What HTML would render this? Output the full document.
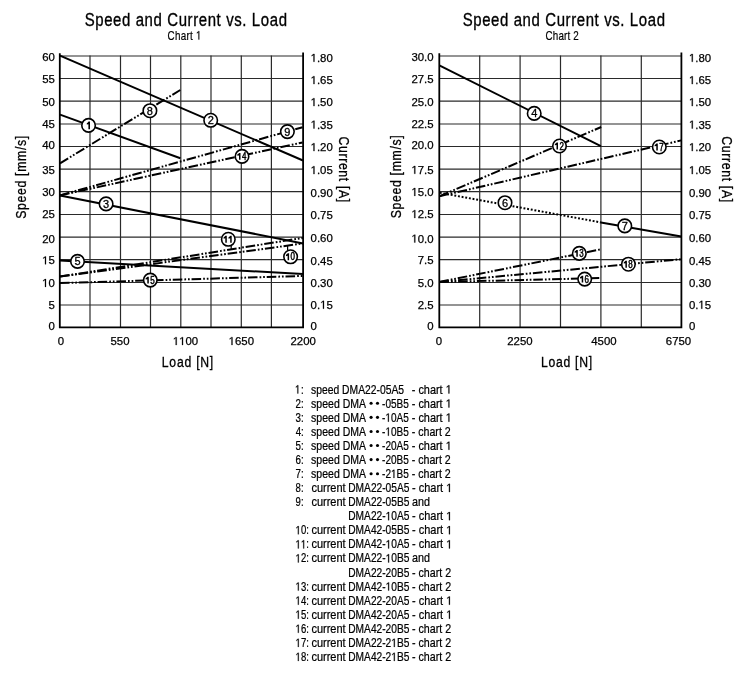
<!DOCTYPE html><html><head><meta charset="utf-8"><style>html,body{margin:0;padding:0;background:#fff;width:750px;height:683px;overflow:hidden}svg{display:block;will-change:transform}text{font-family:"Liberation Sans", sans-serif;fill:#000;white-space:pre}.b{stroke:#000;stroke-width:0.25}.c{stroke:#000;stroke-width:0.3}.c2{stroke:#000;stroke-width:0.45}.t{stroke:#000;stroke-width:0.35}.s{stroke:#000;stroke-width:0.2}.a{stroke:#000;stroke-width:0.3}.l{stroke:#000;stroke-width:0.22}</style></head><body>
<svg width="750" height="683" viewBox="0 0 750 683">
<rect width="750" height="683" fill="#fff"/>
<text transform="translate(84.63,25.5) scale(0.8,1)" x="0" y="0" font-size="18.7" textLength="252.92" lengthAdjust="spacing" class="t">Speed and Current vs. Load</text>
<text transform="translate(167.51,39.6) scale(0.8000,1)" font-size="12.3" textLength="35.22" lengthAdjust="spacing" class="s">Chart </text>
<polygon points="198.43,39.60 199.30,39.60 199.30,31.14 198.50,31.14 196.90,32.51 196.90,33.53 198.43,32.17" class="s"/>
<text transform="translate(462.63,25.5) scale(0.8,1)" x="0" y="0" font-size="18.7" textLength="252.92" lengthAdjust="spacing" class="t">Speed and Current vs. Load</text>
<text transform="translate(545.61,39.6) scale(0.8,1)" x="0" y="0" font-size="12.3" textLength="41.48" lengthAdjust="spacing" class="s">Chart 2</text>
<line x1="90.0" y1="55.4" x2="90.0" y2="327.3" stroke="#2a2a2a" stroke-width="1.2"/>
<line x1="120.5" y1="55.4" x2="120.5" y2="327.3" stroke="#2a2a2a" stroke-width="1.2"/>
<line x1="150.5" y1="55.4" x2="150.5" y2="327.3" stroke="#2a2a2a" stroke-width="1.2"/>
<line x1="180.8" y1="55.4" x2="180.8" y2="327.3" stroke="#2a2a2a" stroke-width="1.2"/>
<line x1="211.0" y1="55.4" x2="211.0" y2="327.3" stroke="#2a2a2a" stroke-width="1.2"/>
<line x1="241.3" y1="55.4" x2="241.3" y2="327.3" stroke="#2a2a2a" stroke-width="1.2"/>
<line x1="271.4" y1="55.4" x2="271.4" y2="327.3" stroke="#2a2a2a" stroke-width="1.2"/>
<line x1="59.8" y1="56.0" x2="303.1" y2="56.0" stroke="#2a2a2a" stroke-width="1.2"/>
<line x1="59.8" y1="78.5" x2="303.1" y2="78.5" stroke="#2a2a2a" stroke-width="1.2"/>
<line x1="59.8" y1="101.1" x2="303.1" y2="101.1" stroke="#2a2a2a" stroke-width="1.2"/>
<line x1="59.8" y1="124.0" x2="303.1" y2="124.0" stroke="#2a2a2a" stroke-width="1.2"/>
<line x1="59.8" y1="146.5" x2="303.1" y2="146.5" stroke="#2a2a2a" stroke-width="1.2"/>
<line x1="59.8" y1="169.2" x2="303.1" y2="169.2" stroke="#2a2a2a" stroke-width="1.2"/>
<line x1="59.8" y1="191.7" x2="303.1" y2="191.7" stroke="#2a2a2a" stroke-width="1.2"/>
<line x1="59.8" y1="214.5" x2="303.1" y2="214.5" stroke="#2a2a2a" stroke-width="1.2"/>
<line x1="59.8" y1="237.2" x2="303.1" y2="237.2" stroke="#2a2a2a" stroke-width="1.2"/>
<line x1="59.8" y1="259.6" x2="303.1" y2="259.6" stroke="#2a2a2a" stroke-width="1.2"/>
<line x1="59.8" y1="282.5" x2="303.1" y2="282.5" stroke="#2a2a2a" stroke-width="1.2"/>
<line x1="59.8" y1="305.0" x2="303.1" y2="305.0" stroke="#2a2a2a" stroke-width="1.2"/>
<path d="M59.8 53.2 V327.3 H303.1 M303.1 52.6 V328.3" fill="none" stroke="#000" stroke-width="1.8"/>
<line x1="479.7" y1="55.4" x2="479.7" y2="327.3" stroke="#2a2a2a" stroke-width="1.2"/>
<line x1="520.1" y1="55.4" x2="520.1" y2="327.3" stroke="#2a2a2a" stroke-width="1.2"/>
<line x1="560.5" y1="55.4" x2="560.5" y2="327.3" stroke="#2a2a2a" stroke-width="1.2"/>
<line x1="600.9" y1="55.4" x2="600.9" y2="327.3" stroke="#2a2a2a" stroke-width="1.2"/>
<line x1="641.3" y1="55.4" x2="641.3" y2="327.3" stroke="#2a2a2a" stroke-width="1.2"/>
<line x1="439.3" y1="56.0" x2="681.4" y2="56.0" stroke="#2a2a2a" stroke-width="1.2"/>
<line x1="439.3" y1="78.5" x2="681.4" y2="78.5" stroke="#2a2a2a" stroke-width="1.2"/>
<line x1="439.3" y1="101.1" x2="681.4" y2="101.1" stroke="#2a2a2a" stroke-width="1.2"/>
<line x1="439.3" y1="124.0" x2="681.4" y2="124.0" stroke="#2a2a2a" stroke-width="1.2"/>
<line x1="439.3" y1="146.5" x2="681.4" y2="146.5" stroke="#2a2a2a" stroke-width="1.2"/>
<line x1="439.3" y1="169.2" x2="681.4" y2="169.2" stroke="#2a2a2a" stroke-width="1.2"/>
<line x1="439.3" y1="191.7" x2="681.4" y2="191.7" stroke="#2a2a2a" stroke-width="1.2"/>
<line x1="439.3" y1="214.5" x2="681.4" y2="214.5" stroke="#2a2a2a" stroke-width="1.2"/>
<line x1="439.3" y1="237.2" x2="681.4" y2="237.2" stroke="#2a2a2a" stroke-width="1.2"/>
<line x1="439.3" y1="259.6" x2="681.4" y2="259.6" stroke="#2a2a2a" stroke-width="1.2"/>
<line x1="439.3" y1="282.5" x2="681.4" y2="282.5" stroke="#2a2a2a" stroke-width="1.2"/>
<line x1="439.3" y1="305.0" x2="681.4" y2="305.0" stroke="#2a2a2a" stroke-width="1.2"/>
<path d="M439.3 53.2 V327.3 H681.4 M681.4 52.6 V328.3" fill="none" stroke="#000" stroke-width="1.8"/>
<text x="54.8" y="60.5" font-size="11.4" text-anchor="end" class="b">60</text>
<text x="433.6" y="60.5" font-size="11.4" text-anchor="end" class="b">30.0</text>
<polygon points="313.47,61.80 314.47,61.80 314.47,53.96 313.55,53.96 311.70,55.23 311.70,56.18 313.47,54.91" class="b"/>
<text transform="translate(316.94,61.8) scale(1.0000,1)" font-size="11.4" textLength="15.85" lengthAdjust="spacing" class="b">.80</text>
<polygon points="691.77,61.80 692.77,61.80 692.77,53.96 691.85,53.96 690.00,55.23 690.00,56.18 691.77,54.91" class="b"/>
<text transform="translate(695.24,61.8) scale(1.0000,1)" font-size="11.4" textLength="15.85" lengthAdjust="spacing" class="b">.80</text>
<text x="54.8" y="83.2" font-size="11.4" text-anchor="end" class="b">55</text>
<text x="433.6" y="83.2" font-size="11.4" text-anchor="end" class="b">27.5</text>
<polygon points="313.47,84.10 314.47,84.10 314.47,76.26 313.55,76.26 311.70,77.53 311.70,78.48 313.47,77.21" class="b"/>
<text transform="translate(316.94,84.1) scale(1.0000,1)" font-size="11.4" textLength="15.85" lengthAdjust="spacing" class="b">.65</text>
<polygon points="691.77,84.10 692.77,84.10 692.77,76.26 691.85,76.26 690.00,77.53 690.00,78.48 691.77,77.21" class="b"/>
<text transform="translate(695.24,84.1) scale(1.0000,1)" font-size="11.4" textLength="15.85" lengthAdjust="spacing" class="b">.65</text>
<text x="54.8" y="105.6" font-size="11.4" text-anchor="end" class="b">50</text>
<text x="433.6" y="105.6" font-size="11.4" text-anchor="end" class="b">25.0</text>
<polygon points="313.47,106.10 314.47,106.10 314.47,98.26 313.55,98.26 311.70,99.53 311.70,100.48 313.47,99.21" class="b"/>
<text transform="translate(316.94,106.1) scale(1.0000,1)" font-size="11.4" textLength="15.85" lengthAdjust="spacing" class="b">.50</text>
<polygon points="691.77,106.10 692.77,106.10 692.77,98.26 691.85,98.26 690.00,99.53 690.00,100.48 691.77,99.21" class="b"/>
<text transform="translate(695.24,106.1) scale(1.0000,1)" font-size="11.4" textLength="15.85" lengthAdjust="spacing" class="b">.50</text>
<text x="54.8" y="127.5" font-size="11.4" text-anchor="end" class="b">45</text>
<text x="433.6" y="127.5" font-size="11.4" text-anchor="end" class="b">22.5</text>
<polygon points="313.47,128.50 314.47,128.50 314.47,120.66 313.55,120.66 311.70,121.93 311.70,122.88 313.47,121.61" class="b"/>
<text transform="translate(316.94,128.5) scale(1.0000,1)" font-size="11.4" textLength="15.85" lengthAdjust="spacing" class="b">.35</text>
<polygon points="691.77,128.50 692.77,128.50 692.77,120.66 691.85,120.66 690.00,121.93 690.00,122.88 691.77,121.61" class="b"/>
<text transform="translate(695.24,128.5) scale(1.0000,1)" font-size="11.4" textLength="15.85" lengthAdjust="spacing" class="b">.35</text>
<text x="54.8" y="149.4" font-size="11.4" text-anchor="end" class="b">40</text>
<text x="433.6" y="149.4" font-size="11.4" text-anchor="end" class="b">20.0</text>
<polygon points="313.47,151.10 314.47,151.10 314.47,143.26 313.55,143.26 311.70,144.53 311.70,145.48 313.47,144.21" class="b"/>
<text transform="translate(316.94,151.1) scale(1.0000,1)" font-size="11.4" textLength="15.85" lengthAdjust="spacing" class="b">.20</text>
<polygon points="691.77,151.10 692.77,151.10 692.77,143.26 691.85,143.26 690.00,144.53 690.00,145.48 691.77,144.21" class="b"/>
<text transform="translate(695.24,151.1) scale(1.0000,1)" font-size="11.4" textLength="15.85" lengthAdjust="spacing" class="b">.20</text>
<text x="54.8" y="173.8" font-size="11.4" text-anchor="end" class="b">35</text>
<polygon points="414.28,173.80 415.29,173.80 415.29,165.96 414.36,165.96 412.51,167.23 412.51,168.18 414.28,166.91" class="b"/>
<text transform="translate(417.75,173.8) scale(1.0000,1)" font-size="11.4" textLength="15.85" lengthAdjust="spacing" class="b">7.5</text>
<polygon points="313.47,174.10 314.47,174.10 314.47,166.26 313.55,166.26 311.70,167.53 311.70,168.48 313.47,167.21" class="b"/>
<text transform="translate(316.94,174.1) scale(1.0000,1)" font-size="11.4" textLength="15.85" lengthAdjust="spacing" class="b">.05</text>
<polygon points="691.77,174.10 692.77,174.10 692.77,166.26 691.85,166.26 690.00,167.53 690.00,168.48 691.77,167.21" class="b"/>
<text transform="translate(695.24,174.1) scale(1.0000,1)" font-size="11.4" textLength="15.85" lengthAdjust="spacing" class="b">.05</text>
<text x="54.8" y="195.9" font-size="11.4" text-anchor="end" class="b">30</text>
<polygon points="414.28,195.90 415.29,195.90 415.29,188.06 414.36,188.06 412.51,189.33 412.51,190.28 414.28,189.01" class="b"/>
<text transform="translate(417.75,195.9) scale(1.0000,1)" font-size="11.4" textLength="15.85" lengthAdjust="spacing" class="b">5.0</text>
<text x="310.6" y="196.6" font-size="11.4" text-anchor="start" class="b">0.90</text>
<text x="688.9" y="196.6" font-size="11.4" text-anchor="start" class="b">0.90</text>
<text x="54.8" y="218.0" font-size="11.4" text-anchor="end" class="b">25</text>
<polygon points="414.28,218.00 415.29,218.00 415.29,210.16 414.36,210.16 412.51,211.43 412.51,212.38 414.28,211.11" class="b"/>
<text transform="translate(417.75,218.0) scale(1.0000,1)" font-size="11.4" textLength="15.85" lengthAdjust="spacing" class="b">2.5</text>
<text x="310.6" y="218.7" font-size="11.4" text-anchor="start" class="b">0.75</text>
<text x="688.9" y="218.7" font-size="11.4" text-anchor="start" class="b">0.75</text>
<text x="54.8" y="242.5" font-size="11.4" text-anchor="end" class="b">20</text>
<polygon points="414.28,242.50 415.29,242.50 415.29,234.66 414.36,234.66 412.51,235.93 412.51,236.88 414.28,235.61" class="b"/>
<text transform="translate(417.75,242.5) scale(1.0000,1)" font-size="11.4" textLength="15.85" lengthAdjust="spacing" class="b">0.0</text>
<text x="310.6" y="241.9" font-size="11.4" text-anchor="start" class="b">0.60</text>
<text x="688.9" y="241.9" font-size="11.4" text-anchor="start" class="b">0.60</text>
<polygon points="44.99,264.30 45.99,264.30 45.99,256.46 45.07,256.46 43.22,257.73 43.22,258.68 44.99,257.41" class="b"/>
<text transform="translate(48.46,264.3) scale(1.0000,1)" font-size="11.4" textLength="6.34" lengthAdjust="spacing" class="b">5</text>
<text x="433.6" y="264.3" font-size="11.4" text-anchor="end" class="b">7.5</text>
<text x="310.6" y="264.5" font-size="11.4" text-anchor="start" class="b">0.45</text>
<text x="688.9" y="264.5" font-size="11.4" text-anchor="start" class="b">0.45</text>
<polygon points="44.99,286.90 45.99,286.90 45.99,279.06 45.07,279.06 43.22,280.33 43.22,281.28 44.99,280.01" class="b"/>
<text transform="translate(48.46,286.9) scale(1.0000,1)" font-size="11.4" textLength="6.34" lengthAdjust="spacing" class="b">0</text>
<text x="433.6" y="286.9" font-size="11.4" text-anchor="end" class="b">5.0</text>
<text x="310.6" y="287.0" font-size="11.4" text-anchor="start" class="b">0.30</text>
<text x="688.9" y="287.0" font-size="11.4" text-anchor="start" class="b">0.30</text>
<text x="54.8" y="308.6" font-size="11.4" text-anchor="end" class="b">5</text>
<text x="433.6" y="308.6" font-size="11.4" text-anchor="end" class="b">2.5</text>
<text transform="translate(310.60,308.7) scale(1.0000,1)" font-size="11.4" textLength="9.51" lengthAdjust="spacing" class="b">0.</text>
<polygon points="322.97,308.70 323.98,308.70 323.98,300.86 323.06,300.86 321.20,302.13 321.20,303.08 322.97,301.81" class="b"/>
<text transform="translate(326.45,308.7) scale(1.0000,1)" font-size="11.4" textLength="6.34" lengthAdjust="spacing" class="b">5</text>
<text transform="translate(688.90,308.7) scale(1.0000,1)" font-size="11.4" textLength="9.51" lengthAdjust="spacing" class="b">0.</text>
<polygon points="701.27,308.70 702.28,308.70 702.28,300.86 701.36,300.86 699.50,302.13 699.50,303.08 701.27,301.81" class="b"/>
<text transform="translate(704.75,308.7) scale(1.0000,1)" font-size="11.4" textLength="6.34" lengthAdjust="spacing" class="b">5</text>
<text x="54.8" y="329.7" font-size="11.4" text-anchor="end" class="b">0</text>
<text x="433.6" y="329.7" font-size="11.4" text-anchor="end" class="b">0</text>
<text x="310.6" y="329.7" font-size="11.4" text-anchor="start" class="b">0</text>
<text x="688.9" y="329.7" font-size="11.4" text-anchor="start" class="b">0</text>
<text x="61" y="345.0" font-size="11.4" text-anchor="middle" class="b">0</text>
<text x="120" y="345.0" font-size="11.4" text-anchor="middle" class="b">550</text>
<polygon points="175.69,345.00 176.69,345.00 176.69,337.16 175.77,337.16 173.92,338.43 173.92,339.38 175.69,338.11" class="b"/>
<polygon points="182.03,345.00 183.03,345.00 183.03,337.16 182.11,337.16 180.26,338.43 180.26,339.38 182.03,338.11" class="b"/>
<text transform="translate(185.50,345.0) scale(1.0000,1)" font-size="11.4" textLength="12.68" lengthAdjust="spacing" class="b">00</text>
<polygon points="231.49,345.00 232.49,345.00 232.49,337.16 231.57,337.16 229.72,338.43 229.72,339.38 231.49,338.11" class="b"/>
<text transform="translate(234.96,345.0) scale(1.0000,1)" font-size="11.4" textLength="19.02" lengthAdjust="spacing" class="b">650</text>
<text x="303.2" y="345.0" font-size="11.4" text-anchor="middle" class="b">2200</text>
<text x="439" y="345.0" font-size="11.4" text-anchor="middle" class="b">0</text>
<text x="519.9" y="345.0" font-size="11.4" text-anchor="middle" class="b">2250</text>
<text x="603.9" y="345.0" font-size="11.4" text-anchor="middle" class="b">4500</text>
<text x="678.5" y="345.0" font-size="11.4" text-anchor="middle" class="b">6750</text>
<text transform="translate(161.8,366.9) scale(0.82,1)" x="0" y="0" font-size="14.9" textLength="62.77" lengthAdjust="spacing" class="a">Load [N]</text>
<text transform="translate(541.0,366.8) scale(0.82,1)" x="0" y="0" font-size="14.9" textLength="62.28" lengthAdjust="spacing" class="a">Load [N]</text>
<text transform="translate(25.8,218.2) rotate(-90) scale(0.82,1)" x="-0.67" y="0" font-size="15.0" textLength="101.25" lengthAdjust="spacing" class="a">Speed [mm/s]</text>
<text transform="translate(400.7,217.8) rotate(-90) scale(0.82,1)" x="-0.67" y="0" font-size="15.0" textLength="101.37" lengthAdjust="spacing" class="a">Speed [mm/s]</text>
<text transform="translate(339.3,137.0) rotate(90) scale(0.82,1)" x="-0.74" y="0" font-size="15.0" textLength="80.35" lengthAdjust="spacing" class="a">Current [A]</text>
<text transform="translate(721.5,136.8) rotate(90) scale(0.82,1)" x="-0.74" y="0" font-size="15.0" textLength="80.47" lengthAdjust="spacing" class="a">Current [A]</text>
<line x1="60" y1="55.7" x2="303" y2="160.5" stroke="#000" stroke-width="2.0"/>
<line x1="60" y1="114.6" x2="180.4" y2="158.2" stroke="#000" stroke-width="2.0"/>
<line x1="60" y1="163.3" x2="180.3" y2="90" stroke="#000" stroke-width="2.0" stroke-dasharray="9.6 2.05 1.7 1.9 1.7 1.85" stroke-dashoffset="0"/>
<line x1="60" y1="195.4" x2="302.6" y2="127.2" stroke="#000" stroke-width="2.0" stroke-dasharray="9.6 2.05 1.7 1.9 1.7 1.85" stroke-dashoffset="0"/>
<line x1="60" y1="195.4" x2="302.6" y2="142.4" stroke="#000" stroke-width="2.0" stroke-dasharray="9.6 2.05 1.7 1.9 1.7 1.85" stroke-dashoffset="0"/>
<line x1="60" y1="195.4" x2="303" y2="243.4" stroke="#000" stroke-width="2.0"/>
<line x1="60" y1="276.6" x2="303" y2="237.9" stroke="#000" stroke-width="2.0" stroke-dasharray="9.6 2.05 1.7 1.9 1.7 1.85" stroke-dashoffset="0"/>
<line x1="60" y1="276.6" x2="303" y2="243.5" stroke="#000" stroke-width="2.0" stroke-dasharray="9.6 2.05 1.7 1.9 1.7 1.85" stroke-dashoffset="0"/>
<line x1="60" y1="260.5" x2="303" y2="274.0" stroke="#000" stroke-width="2.0"/>
<line x1="60" y1="283.1" x2="303" y2="275.9" stroke="#000" stroke-width="2.0" stroke-dasharray="9.6 2.05 1.7 1.9 1.7 1.85" stroke-dashoffset="0"/>
<line x1="439.3" y1="65.4" x2="600.9" y2="146.2" stroke="#000" stroke-width="2.0"/>
<line x1="439.3" y1="196.3" x2="601.2" y2="127" stroke="#000" stroke-width="2.0" stroke-dasharray="9.6 2.05 1.7 1.9 1.7 1.85" stroke-dashoffset="0"/>
<line x1="439.3" y1="196.3" x2="681.3" y2="140.4" stroke="#000" stroke-width="2.0" stroke-dasharray="9.6 2.05 1.7 1.9 1.7 1.85" stroke-dashoffset="0"/>
<line x1="439.3" y1="192.7" x2="600.9" y2="222.4" stroke="#000" stroke-width="2.0" stroke-dasharray="1.9 1.8" stroke-dashoffset="-0.5"/>
<line x1="600.9" y1="222.4" x2="681.3" y2="236.4" stroke="#000" stroke-width="2.0"/>
<line x1="439.3" y1="282" x2="600.9" y2="249.3" stroke="#000" stroke-width="2.0" stroke-dasharray="9.6 2.05 1.7 1.9 1.7 1.85" stroke-dashoffset="0"/>
<line x1="439.3" y1="282" x2="681.3" y2="259.2" stroke="#000" stroke-width="2.0" stroke-dasharray="9.6 2.05 1.7 1.9 1.7 1.85" stroke-dashoffset="0"/>
<line x1="439.3" y1="282" x2="600" y2="278.1" stroke="#000" stroke-width="2.0" stroke-dasharray="9.6 2.05 1.7 1.9 1.7 1.85" stroke-dashoffset="0"/>
<line x1="231.2" y1="246" x2="231.2" y2="249" stroke="#000" stroke-width="1.2"/>
<line x1="287.6" y1="245" x2="287.6" y2="250" stroke="#000" stroke-width="1.2"/>
<circle cx="88.55" cy="125.4" r="6.75" fill="#fff" stroke="#000" stroke-width="1.6"/>
<path d="M90.00 121.5 V129.3 H88.40 V124.31 L86.80 124.61 V123.21 Q88.10 122.81 88.50 121.5 Z"/>
<circle cx="210.7" cy="120.3" r="6.75" fill="#fff" stroke="#000" stroke-width="1.6"/>
<text x="210.7" y="124.25" font-size="11" text-anchor="middle" class="c">2</text>
<circle cx="149.9" cy="110.7" r="6.75" fill="#fff" stroke="#000" stroke-width="1.6"/>
<text x="149.9" y="114.65" font-size="11" text-anchor="middle" class="c">8</text>
<circle cx="287.4" cy="131.6" r="6.75" fill="#fff" stroke="#000" stroke-width="1.6"/>
<text x="287.4" y="135.55" font-size="11" text-anchor="middle" class="c">9</text>
<circle cx="242.0" cy="156.4" r="6.75" fill="#fff" stroke="#000" stroke-width="1.6"/>
<path d="M240.50 152.95 V159.85 H239.00 V155.43 L237.35 155.73 V154.33 Q238.65 153.93 239.10 152.95 Z"/>
<text transform="translate(244.1,159.90) scale(0.8,1)" x="0" y="0" font-size="10.0" text-anchor="middle" class="c2">4</text>
<circle cx="106.1" cy="203.9" r="6.75" fill="#fff" stroke="#000" stroke-width="1.6"/>
<text x="106.1" y="207.85" font-size="11" text-anchor="middle" class="c">3</text>
<circle cx="228.3" cy="239.3" r="6.75" fill="#fff" stroke="#000" stroke-width="1.6"/>
<path d="M226.80 235.85 V242.75 H225.30 V238.33 L223.65 238.63 V237.23 Q224.95 236.83 225.40 235.85 Z"/>
<path d="M231.70 235.85 V242.75 H230.20 V238.33 L228.55 238.63 V237.23 Q229.85 236.83 230.30 235.85 Z"/>
<circle cx="290.6" cy="256.8" r="6.75" fill="#fff" stroke="#000" stroke-width="1.6"/>
<path d="M289.10 253.35 V260.25 H287.60 V255.83 L285.95 256.13 V254.73 Q287.25 254.33 287.70 253.35 Z"/>
<text transform="translate(292.7,260.30) scale(0.8,1)" x="0" y="0" font-size="10.0" text-anchor="middle" class="c2">0</text>
<circle cx="77.5" cy="261.4" r="6.75" fill="#fff" stroke="#000" stroke-width="1.6"/>
<text x="77.5" y="265.35" font-size="11" text-anchor="middle" class="c">5</text>
<circle cx="150.3" cy="280.1" r="6.75" fill="#fff" stroke="#000" stroke-width="1.6"/>
<path d="M148.80 276.65 V283.55 H147.30 V279.13 L145.65 279.43 V278.03 Q146.95 277.63 147.40 276.65 Z"/>
<text transform="translate(152.4,283.60) scale(0.8,1)" x="0" y="0" font-size="10.0" text-anchor="middle" class="c2">5</text>
<circle cx="534.2" cy="113.4" r="6.75" fill="#fff" stroke="#000" stroke-width="1.6"/>
<text x="534.2" y="117.35" font-size="11" text-anchor="middle" class="c">4</text>
<circle cx="559.5" cy="146" r="6.75" fill="#fff" stroke="#000" stroke-width="1.6"/>
<path d="M558.00 142.55 V149.45 H556.50 V145.03 L554.85 145.33 V143.93 Q556.15 143.53 556.60 142.55 Z"/>
<text transform="translate(561.6,149.50) scale(0.8,1)" x="0" y="0" font-size="10.0" text-anchor="middle" class="c2">2</text>
<circle cx="659.3" cy="147" r="6.75" fill="#fff" stroke="#000" stroke-width="1.6"/>
<path d="M657.80 143.55 V150.45 H656.30 V146.03 L654.65 146.33 V144.93 Q655.95 144.53 656.40 143.55 Z"/>
<text transform="translate(661.4,150.50) scale(0.8,1)" x="0" y="0" font-size="10.0" text-anchor="middle" class="c2">7</text>
<circle cx="505" cy="202.7" r="6.75" fill="#fff" stroke="#000" stroke-width="1.6"/>
<text x="505" y="206.65" font-size="11" text-anchor="middle" class="c">6</text>
<circle cx="624.8" cy="225.9" r="6.75" fill="#fff" stroke="#000" stroke-width="1.6"/>
<text x="624.8" y="229.85" font-size="11" text-anchor="middle" class="c">7</text>
<circle cx="579.3" cy="253.4" r="6.75" fill="#fff" stroke="#000" stroke-width="1.6"/>
<path d="M577.80 249.95 V256.85 H576.30 V252.43 L574.65 252.73 V251.33 Q575.95 250.93 576.40 249.95 Z"/>
<text transform="translate(581.4,256.90) scale(0.8,1)" x="0" y="0" font-size="10.0" text-anchor="middle" class="c2">3</text>
<circle cx="628.4" cy="264.2" r="6.75" fill="#fff" stroke="#000" stroke-width="1.6"/>
<path d="M626.90 260.75 V267.65 H625.40 V263.23 L623.75 263.53 V262.13 Q625.05 261.73 625.50 260.75 Z"/>
<text transform="translate(630.5,267.70) scale(0.8,1)" x="0" y="0" font-size="10.0" text-anchor="middle" class="c2">8</text>
<circle cx="584.7" cy="279.1" r="6.75" fill="#fff" stroke="#000" stroke-width="1.6"/>
<path d="M583.20 275.65 V282.55 H581.70 V278.13 L580.05 278.43 V277.03 Q581.35 276.63 581.80 275.65 Z"/>
<text transform="translate(586.8,282.60) scale(0.8,1)" x="0" y="0" font-size="10.0" text-anchor="middle" class="c2">6</text>
<polygon points="297.41,393.50 298.28,393.50 298.28,385.31 297.49,385.31 295.90,386.64 295.90,387.63 297.41,386.31" class="l"/>
<text transform="translate(301.07,393.5) scale(0.8200,1)" font-size="11.9" textLength="3.31" lengthAdjust="spacing" class="l">:</text>
<text x="311.12" y="393.5" font-size="11.9" textLength="92.91" lengthAdjust="spacingAndGlyphs" class="l">speed DMA22-05A5</text>
<text transform="translate(411.72,393.5) scale(0.9173,1)" font-size="11.9" textLength="37.03" lengthAdjust="spacing" class="l">- chart </text>
<polygon points="448.43,393.50 449.40,393.50 449.40,385.31 448.51,385.31 446.74,386.64 446.74,387.63 448.43,386.31" class="l"/>
<text transform="translate(295.41,407.58) scale(0.82,1)" x="0" y="0" font-size="11.9" textLength="10.21" lengthAdjust="spacing" class="l">2:</text>
<text x="311.12" y="407.58" font-size="11.9" textLength="54.9" lengthAdjust="spacingAndGlyphs" class="l">speed DMA</text>
<circle cx="371.1" cy="403.28" r="1.55"/><circle cx="377.5" cy="403.28" r="1.55"/>
<text x="382.06" y="407.58" font-size="11.9" textLength="26.76" lengthAdjust="spacingAndGlyphs" class="l">-05B5</text>
<text transform="translate(411.72,407.58) scale(0.9173,1)" font-size="11.9" textLength="37.03" lengthAdjust="spacing" class="l">- chart </text>
<polygon points="448.43,407.58 449.40,407.58 449.40,399.39 448.51,399.39 446.74,400.72 446.74,401.71 448.43,400.39" class="l"/>
<text transform="translate(295.53,421.66) scale(0.82,1)" x="0" y="0" font-size="11.9" textLength="10.07" lengthAdjust="spacing" class="l">3:</text>
<text x="311.12" y="421.66" font-size="11.9" textLength="54.9" lengthAdjust="spacingAndGlyphs" class="l">speed DMA</text>
<circle cx="371.1" cy="417.36" r="1.55"/><circle cx="377.5" cy="417.36" r="1.55"/>
<text transform="translate(382.06,421.66) scale(0.8427,1)" font-size="11.9" textLength="3.96" lengthAdjust="spacing" class="l">-</text>
<polygon points="387.92,421.66 388.81,421.66 388.81,413.47 387.99,413.47 386.36,414.80 386.36,415.79 387.92,414.47" class="l"/>
<text transform="translate(390.98,421.66) scale(0.8427,1)" font-size="11.9" textLength="21.17" lengthAdjust="spacing" class="l">0A5</text>
<text transform="translate(411.72,421.66) scale(0.9173,1)" font-size="11.9" textLength="37.03" lengthAdjust="spacing" class="l">- chart </text>
<polygon points="448.43,421.66 449.40,421.66 449.40,413.47 448.51,413.47 446.74,414.80 446.74,415.79 448.43,414.47" class="l"/>
<text transform="translate(295.69,435.74) scale(0.82,1)" x="0" y="0" font-size="11.9" textLength="9.88" lengthAdjust="spacing" class="l">4:</text>
<text x="311.12" y="435.74" font-size="11.9" textLength="54.9" lengthAdjust="spacingAndGlyphs" class="l">speed DMA</text>
<circle cx="371.1" cy="431.44" r="1.55"/><circle cx="377.5" cy="431.44" r="1.55"/>
<text transform="translate(382.06,435.74) scale(0.8427,1)" font-size="11.9" textLength="3.96" lengthAdjust="spacing" class="l">-</text>
<polygon points="387.92,435.74 388.81,435.74 388.81,427.55 387.99,427.55 386.36,428.88 386.36,429.87 387.92,428.55" class="l"/>
<text transform="translate(390.98,435.74) scale(0.8427,1)" font-size="11.9" textLength="21.17" lengthAdjust="spacing" class="l">0B5</text>
<text x="411.73" y="435.74" font-size="11.9" textLength="39.0" lengthAdjust="spacingAndGlyphs" class="l">- chart 2</text>
<text transform="translate(295.51,449.82) scale(0.82,1)" x="0" y="0" font-size="11.9" textLength="10.1" lengthAdjust="spacing" class="l">5:</text>
<text x="311.12" y="449.82" font-size="11.9" textLength="54.9" lengthAdjust="spacingAndGlyphs" class="l">speed DMA</text>
<circle cx="371.1" cy="445.52" r="1.55"/><circle cx="377.5" cy="445.52" r="1.55"/>
<text x="382.06" y="449.82" font-size="11.9" textLength="26.76" lengthAdjust="spacingAndGlyphs" class="l">-20A5</text>
<text transform="translate(411.72,449.82) scale(0.9173,1)" font-size="11.9" textLength="37.03" lengthAdjust="spacing" class="l">- chart </text>
<polygon points="448.43,449.82 449.40,449.82 449.40,441.63 448.51,441.63 446.74,442.96 446.74,443.95 448.43,442.63" class="l"/>
<text transform="translate(295.41,463.9) scale(0.82,1)" x="0" y="0" font-size="11.9" textLength="10.21" lengthAdjust="spacing" class="l">6:</text>
<text x="311.12" y="463.9" font-size="11.9" textLength="54.9" lengthAdjust="spacingAndGlyphs" class="l">speed DMA</text>
<circle cx="371.1" cy="459.59999999999997" r="1.55"/><circle cx="377.5" cy="459.59999999999997" r="1.55"/>
<text x="382.06" y="463.9" font-size="11.9" textLength="26.76" lengthAdjust="spacingAndGlyphs" class="l">-20B5</text>
<text x="411.73" y="463.9" font-size="11.9" textLength="39.0" lengthAdjust="spacingAndGlyphs" class="l">- chart 2</text>
<text transform="translate(295.4,477.98) scale(0.82,1)" x="0" y="0" font-size="11.9" textLength="10.23" lengthAdjust="spacing" class="l">7:</text>
<text x="311.12" y="477.98" font-size="11.9" textLength="54.9" lengthAdjust="spacingAndGlyphs" class="l">speed DMA</text>
<circle cx="371.1" cy="473.68" r="1.55"/><circle cx="377.5" cy="473.68" r="1.55"/>
<text transform="translate(382.06,477.98) scale(0.8427,1)" font-size="11.9" textLength="10.58" lengthAdjust="spacing" class="l">-2</text>
<polygon points="393.50,477.98 394.38,477.98 394.38,469.79 393.57,469.79 391.94,471.12 391.94,472.11 393.50,470.79" class="l"/>
<text transform="translate(396.55,477.98) scale(0.8427,1)" font-size="11.9" textLength="14.56" lengthAdjust="spacing" class="l">B5</text>
<text x="411.73" y="477.98" font-size="11.9" textLength="39.0" lengthAdjust="spacingAndGlyphs" class="l">- chart 2</text>
<text transform="translate(295.49,492.06) scale(0.8,1)" x="0" y="0" font-size="11.9" textLength="10.34" lengthAdjust="spacing" class="l">8:</text>
<text x="311.44" y="492.06" font-size="11.9" textLength="34.23" lengthAdjust="spacingAndGlyphs" class="l">current</text>
<text x="348.26" y="492.06" font-size="11.9" textLength="61.15" lengthAdjust="spacingAndGlyphs" class="l">DMA22-05A5</text>
<text transform="translate(412.02,492.06) scale(0.9224,1)" font-size="11.9" textLength="37.03" lengthAdjust="spacing" class="l">- chart </text>
<polygon points="448.94,492.06 449.91,492.06 449.91,483.87 449.02,483.87 447.23,485.20 447.23,486.19 448.94,484.87" class="l"/>
<text transform="translate(295.46,506.14) scale(0.8,1)" x="0" y="0" font-size="11.9" textLength="10.38" lengthAdjust="spacing" class="l">9:</text>
<text x="311.44" y="506.14" font-size="11.9" textLength="34.23" lengthAdjust="spacingAndGlyphs" class="l">current</text>
<text x="348.26" y="506.14" font-size="11.9" textLength="61.15" lengthAdjust="spacingAndGlyphs" class="l">DMA22-05B5</text>
<text x="412.05" y="506.14" font-size="11.9" textLength="17.95" lengthAdjust="spacingAndGlyphs" class="l">and</text>
<text transform="translate(348.26,520.22) scale(0.8560,1)" font-size="11.9" textLength="43.64" lengthAdjust="spacing" class="l">DMA22-</text>
<polygon points="388.18,520.22 389.08,520.22 389.08,512.03 388.26,512.03 386.60,513.36 386.60,514.35 388.18,513.03" class="l"/>
<text transform="translate(391.28,520.22) scale(0.8560,1)" font-size="11.9" textLength="21.17" lengthAdjust="spacing" class="l">0A5</text>
<text transform="translate(412.02,520.22) scale(0.9224,1)" font-size="11.9" textLength="37.03" lengthAdjust="spacing" class="l">- chart </text>
<polygon points="448.94,520.22 449.91,520.22 449.91,512.03 449.02,512.03 447.23,513.36 447.23,514.35 448.94,513.03" class="l"/>
<polygon points="297.87,534.30 298.72,534.30 298.72,526.11 297.94,526.11 296.40,527.44 296.40,528.43 297.87,527.11" class="l"/>
<text transform="translate(300.90,534.3) scale(0.8000,1)" font-size="11.9" textLength="10.08" lengthAdjust="spacing" class="l">0:</text>
<text x="311.44" y="534.3" font-size="11.9" textLength="34.23" lengthAdjust="spacingAndGlyphs" class="l">current</text>
<text x="348.26" y="534.3" font-size="11.9" textLength="61.15" lengthAdjust="spacingAndGlyphs" class="l">DMA42-05B5</text>
<text transform="translate(412.02,534.3) scale(0.9224,1)" font-size="11.9" textLength="37.03" lengthAdjust="spacing" class="l">- chart </text>
<polygon points="448.94,534.30 449.91,534.30 449.91,526.11 449.02,526.11 447.23,527.44 447.23,528.43 448.94,527.11" class="l"/>
<polygon points="297.87,548.38 298.72,548.38 298.72,540.19 297.94,540.19 296.40,541.52 296.40,542.51 297.87,541.19" class="l"/>
<polygon points="303.29,548.38 304.13,548.38 304.13,540.19 303.36,540.19 301.81,541.52 301.81,542.51 303.29,541.19" class="l"/>
<text transform="translate(306.32,548.38) scale(0.8000,1)" font-size="11.9" textLength="3.31" lengthAdjust="spacing" class="l">:</text>
<text x="311.44" y="548.38" font-size="11.9" textLength="34.23" lengthAdjust="spacingAndGlyphs" class="l">current</text>
<text transform="translate(348.26,548.38) scale(0.8560,1)" font-size="11.9" textLength="43.64" lengthAdjust="spacing" class="l">DMA42-</text>
<polygon points="388.18,548.38 389.08,548.38 389.08,540.19 388.26,540.19 386.60,541.52 386.60,542.51 388.18,541.19" class="l"/>
<text transform="translate(391.28,548.38) scale(0.8560,1)" font-size="11.9" textLength="21.17" lengthAdjust="spacing" class="l">0A5</text>
<text transform="translate(412.02,548.38) scale(0.9224,1)" font-size="11.9" textLength="37.03" lengthAdjust="spacing" class="l">- chart </text>
<polygon points="448.94,548.38 449.91,548.38 449.91,540.19 449.02,540.19 447.23,541.52 447.23,542.51 448.94,541.19" class="l"/>
<polygon points="297.87,562.46 298.72,562.46 298.72,554.27 297.94,554.27 296.40,555.60 296.40,556.59 297.87,555.27" class="l"/>
<text transform="translate(300.90,562.46) scale(0.8000,1)" font-size="11.9" textLength="10.08" lengthAdjust="spacing" class="l">2:</text>
<text x="311.44" y="562.46" font-size="11.9" textLength="34.23" lengthAdjust="spacingAndGlyphs" class="l">current</text>
<text transform="translate(348.26,562.46) scale(0.8560,1)" font-size="11.9" textLength="43.64" lengthAdjust="spacing" class="l">DMA22-</text>
<polygon points="388.18,562.46 389.08,562.46 389.08,554.27 388.26,554.27 386.60,555.60 386.60,556.59 388.18,555.27" class="l"/>
<text transform="translate(391.28,562.46) scale(0.8560,1)" font-size="11.9" textLength="21.17" lengthAdjust="spacing" class="l">0B5</text>
<text x="412.05" y="562.46" font-size="11.9" textLength="17.95" lengthAdjust="spacingAndGlyphs" class="l">and</text>
<text x="348.26" y="576.54" font-size="11.9" textLength="61.15" lengthAdjust="spacingAndGlyphs" class="l">DMA22-20B5</text>
<text x="412.03" y="576.54" font-size="11.9" textLength="39.1" lengthAdjust="spacingAndGlyphs" class="l">- chart 2</text>
<polygon points="297.87,590.62 298.72,590.62 298.72,582.43 297.94,582.43 296.40,583.76 296.40,584.75 297.87,583.43" class="l"/>
<text transform="translate(300.90,590.62) scale(0.8000,1)" font-size="11.9" textLength="10.08" lengthAdjust="spacing" class="l">3:</text>
<text x="311.44" y="590.62" font-size="11.9" textLength="34.23" lengthAdjust="spacingAndGlyphs" class="l">current</text>
<text transform="translate(348.26,590.62) scale(0.8560,1)" font-size="11.9" textLength="43.64" lengthAdjust="spacing" class="l">DMA42-</text>
<polygon points="388.18,590.62 389.08,590.62 389.08,582.43 388.26,582.43 386.60,583.76 386.60,584.75 388.18,583.43" class="l"/>
<text transform="translate(391.28,590.62) scale(0.8560,1)" font-size="11.9" textLength="21.17" lengthAdjust="spacing" class="l">0B5</text>
<text x="412.03" y="590.62" font-size="11.9" textLength="39.1" lengthAdjust="spacingAndGlyphs" class="l">- chart 2</text>
<polygon points="297.87,604.70 298.72,604.70 298.72,596.51 297.94,596.51 296.40,597.84 296.40,598.83 297.87,597.51" class="l"/>
<text transform="translate(300.90,604.7) scale(0.8000,1)" font-size="11.9" textLength="10.08" lengthAdjust="spacing" class="l">4:</text>
<text x="311.44" y="604.7" font-size="11.9" textLength="34.23" lengthAdjust="spacingAndGlyphs" class="l">current</text>
<text x="348.26" y="604.7" font-size="11.9" textLength="61.15" lengthAdjust="spacingAndGlyphs" class="l">DMA22-20A5</text>
<text transform="translate(412.02,604.7) scale(0.9224,1)" font-size="11.9" textLength="37.03" lengthAdjust="spacing" class="l">- chart </text>
<polygon points="448.94,604.70 449.91,604.70 449.91,596.51 449.02,596.51 447.23,597.84 447.23,598.83 448.94,597.51" class="l"/>
<polygon points="297.87,618.78 298.72,618.78 298.72,610.59 297.94,610.59 296.40,611.92 296.40,612.91 297.87,611.59" class="l"/>
<text transform="translate(300.90,618.78) scale(0.8000,1)" font-size="11.9" textLength="10.08" lengthAdjust="spacing" class="l">5:</text>
<text x="311.44" y="618.78" font-size="11.9" textLength="34.23" lengthAdjust="spacingAndGlyphs" class="l">current</text>
<text x="348.26" y="618.78" font-size="11.9" textLength="61.15" lengthAdjust="spacingAndGlyphs" class="l">DMA42-20A5</text>
<text transform="translate(412.02,618.78) scale(0.9224,1)" font-size="11.9" textLength="37.03" lengthAdjust="spacing" class="l">- chart </text>
<polygon points="448.94,618.78 449.91,618.78 449.91,610.59 449.02,610.59 447.23,611.92 447.23,612.91 448.94,611.59" class="l"/>
<polygon points="297.87,632.86 298.72,632.86 298.72,624.67 297.94,624.67 296.40,626.00 296.40,626.99 297.87,625.67" class="l"/>
<text transform="translate(300.90,632.86) scale(0.8000,1)" font-size="11.9" textLength="10.08" lengthAdjust="spacing" class="l">6:</text>
<text x="311.44" y="632.86" font-size="11.9" textLength="34.23" lengthAdjust="spacingAndGlyphs" class="l">current</text>
<text x="348.26" y="632.86" font-size="11.9" textLength="61.15" lengthAdjust="spacingAndGlyphs" class="l">DMA42-20B5</text>
<text x="412.03" y="632.86" font-size="11.9" textLength="39.1" lengthAdjust="spacingAndGlyphs" class="l">- chart 2</text>
<polygon points="297.87,646.94 298.72,646.94 298.72,638.75 297.94,638.75 296.40,640.08 296.40,641.07 297.87,639.75" class="l"/>
<text transform="translate(300.90,646.94) scale(0.8000,1)" font-size="11.9" textLength="10.08" lengthAdjust="spacing" class="l">7:</text>
<text x="311.44" y="646.94" font-size="11.9" textLength="34.23" lengthAdjust="spacingAndGlyphs" class="l">current</text>
<text transform="translate(348.26,646.94) scale(0.8560,1)" font-size="11.9" textLength="50.26" lengthAdjust="spacing" class="l">DMA22-2</text>
<polygon points="393.85,646.94 394.75,646.94 394.75,638.75 393.92,638.75 392.26,640.08 392.26,641.07 393.85,639.75" class="l"/>
<text transform="translate(396.95,646.94) scale(0.8560,1)" font-size="11.9" textLength="14.56" lengthAdjust="spacing" class="l">B5</text>
<text x="412.03" y="646.94" font-size="11.9" textLength="39.1" lengthAdjust="spacingAndGlyphs" class="l">- chart 2</text>
<polygon points="297.87,661.02 298.72,661.02 298.72,652.83 297.94,652.83 296.40,654.16 296.40,655.15 297.87,653.83" class="l"/>
<text transform="translate(300.90,661.02) scale(0.8000,1)" font-size="11.9" textLength="10.08" lengthAdjust="spacing" class="l">8:</text>
<text x="311.44" y="661.02" font-size="11.9" textLength="34.23" lengthAdjust="spacingAndGlyphs" class="l">current</text>
<text transform="translate(348.26,661.02) scale(0.8560,1)" font-size="11.9" textLength="50.26" lengthAdjust="spacing" class="l">DMA42-2</text>
<polygon points="393.85,661.02 394.75,661.02 394.75,652.83 393.92,652.83 392.26,654.16 392.26,655.15 393.85,653.83" class="l"/>
<text transform="translate(396.95,661.02) scale(0.8560,1)" font-size="11.9" textLength="14.56" lengthAdjust="spacing" class="l">B5</text>
<text x="412.03" y="661.02" font-size="11.9" textLength="39.1" lengthAdjust="spacingAndGlyphs" class="l">- chart 2</text>
</svg></body></html>
